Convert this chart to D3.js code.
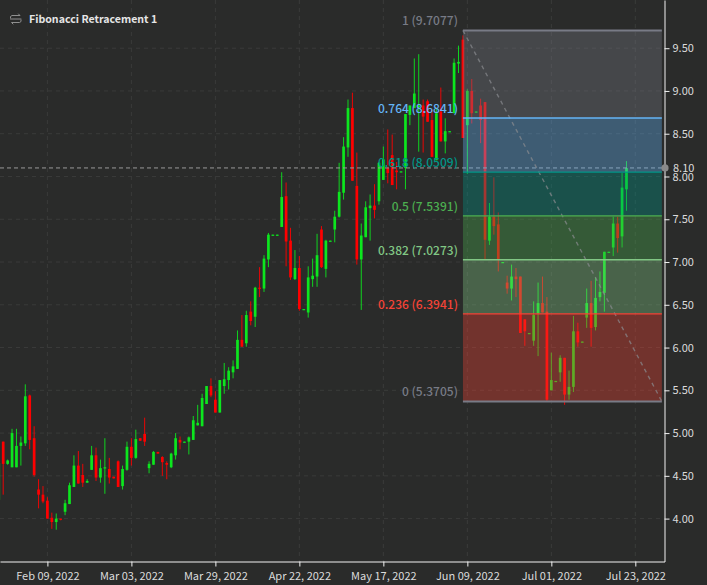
<!DOCTYPE html>
<html><head><meta charset="utf-8">
<script src="https://cdn.jsdelivr.net/npm/d3@7/dist/d3.min.js"></script>
<style>html,body{margin:0;padding:0;background:#2a2b2a;overflow:hidden}svg{display:block}
text{font-family:"Noto Sans CJK SC","Noto Sans",sans-serif}</style></head><body>
<script>
const opens=[4.22,4.90,4.64,4.60,4.60,4.85,4.88,5.44,4.94,4.34,4.28,4.21,4.01,3.96,4.00,4.08,4.17,4.37,4.62,4.51,4.42,4.57,4.74,4.48,4.59,4.58,4.49,4.67,4.38,4.57,4.84,4.71,4.94,4.99,4.59,4.63,4.78,4.72,4.65,4.60,4.74,4.92,4.89,4.90,4.92,5.09,5.08,5.34,5.55,5.39,5.24,5.55,5.62,5.71,5.75,6.09,6.05,6.42,6.36,6.70,6.69,7.03,7.31,7.31,7.41,7.77,7.25,6.80,6.93,6.44,6.41,6.80,6.83,7.38,6.92,7.24,7.38,7.53,7.81,8.34,8.80,7.89,7.03,7.29,7.63,7.66,7.71,7.96,8.10,8.25,8.07,8.05,8.10,8.72,8.80,8.81,8.83,8.88,8.66,8.19,8.76,8.41,8.52,8.74,9.32,9.60,8.60,9.00,8.75,8.83,8.87,7.25,7.53,7.44,6.99,6.76,6.69,6.83,6.83,6.33,6.16,6.08,6.40,6.52,6.42,5.50,5.60,5.71,5.88,5.45,5.54,6.19,6.06,6.35,6.52,6.24,6.59,6.64,7.11,7.17,7.45,7.30,7.85];
const closes=[4.65,4.64,4.68,5.00,4.85,4.89,5.43,4.92,4.51,4.28,4.20,4.00,3.96,4.00,3.99,4.18,4.39,4.62,4.41,4.42,4.44,4.74,4.48,4.59,4.60,4.48,4.47,4.37,4.58,4.84,4.71,4.93,4.91,4.90,4.64,4.78,4.76,4.66,4.63,4.76,4.94,4.89,4.90,4.95,5.15,5.12,5.41,5.55,5.44,5.24,5.62,5.63,5.73,5.78,6.09,6.01,6.38,6.31,6.70,6.69,7.04,7.32,7.32,7.32,7.76,7.24,6.82,6.93,6.45,6.45,6.82,6.84,7.08,6.94,7.25,7.25,7.53,7.82,8.35,8.80,7.95,7.03,7.31,7.64,7.66,7.61,8.16,8.20,8.04,7.90,8.05,8.06,8.73,8.83,8.97,8.83,8.70,8.64,8.23,8.74,8.41,8.53,8.53,9.33,9.34,8.45,9.00,8.74,8.76,8.66,7.26,7.53,7.42,7.03,7.00,6.69,6.83,6.80,6.17,6.19,6.17,6.38,6.52,6.41,5.39,5.62,5.61,5.88,5.45,5.54,6.19,6.06,6.07,6.52,6.23,6.58,6.65,7.12,7.12,7.45,7.28,7.87,8.10];
const highs=[4.77,4.90,4.69,5.05,5.05,4.96,5.57,5.45,5.08,4.46,4.38,4.25,4.07,4.06,4.00,4.22,4.42,4.74,4.79,4.64,4.46,4.85,4.83,4.69,4.94,4.71,4.49,4.68,4.62,4.90,4.94,5.04,4.94,5.18,4.67,4.79,4.78,4.73,4.67,4.77,5.00,4.96,4.90,4.96,5.20,5.33,5.46,5.55,5.64,5.49,5.62,5.82,5.77,5.85,6.20,6.38,6.43,6.54,6.71,6.94,7.08,7.34,7.32,7.32,8.05,7.93,7.40,7.14,7.07,6.45,6.95,7.04,7.33,7.42,7.26,7.25,7.60,8.16,8.46,8.90,8.98,8.28,7.45,7.71,7.79,7.91,8.17,8.35,8.55,8.49,8.17,8.06,8.73,8.83,9.38,9.43,8.90,8.90,8.78,8.80,9.04,8.68,8.53,9.38,9.53,9.65,9.02,9.14,8.76,8.91,8.87,7.69,7.99,7.58,7.00,6.84,6.97,6.93,6.83,6.33,6.17,6.54,6.76,6.83,6.59,5.94,5.61,5.91,5.88,5.73,6.37,6.29,6.07,6.69,6.78,6.82,6.89,7.12,7.12,7.53,7.53,8.04,8.18];
const lows=[4.22,4.28,4.63,4.60,4.60,4.62,4.85,4.81,4.49,4.12,4.18,4.00,3.88,3.87,3.98,4.04,4.17,4.37,4.41,4.37,4.42,4.57,4.44,4.42,4.29,4.41,4.47,4.37,4.34,4.56,4.62,4.70,4.91,4.85,4.53,4.63,4.76,4.50,4.46,4.59,4.69,4.81,4.89,4.75,4.92,5.09,5.08,5.34,5.42,5.24,5.24,5.46,5.51,5.64,5.75,6.01,6.01,6.26,6.24,6.59,6.65,6.94,7.31,7.31,7.41,6.95,6.79,6.79,6.43,6.44,6.35,6.71,6.71,6.93,6.82,7.24,7.23,7.52,7.73,8.23,7.95,6.97,6.44,7.29,7.25,7.51,7.67,7.96,7.92,7.90,7.85,8.05,7.85,8.60,8.80,8.29,8.28,8.64,8.23,8.19,8.41,8.27,8.52,8.74,9.21,8.45,8.03,8.62,8.75,8.39,7.03,7.20,7.32,6.89,6.99,6.63,6.55,6.59,6.17,6.02,6.16,6.02,5.90,6.41,5.37,5.50,5.60,5.60,5.33,5.39,5.48,6.01,6.06,6.23,6.01,6.20,6.54,6.42,7.11,7.07,7.11,7.17,7.60];
const priceTicks=[4,4.5,5,5.5,6,6.5,7,7.5,8,8.5,9,9.5];
const tickCandles=[11,30,49,68,87,106,125,144];
const tickLabels=["Feb 09, 2022","Mar 03, 2022","Mar 29, 2022","Apr 22, 2022","May 17, 2022","Jun 09, 2022","Jul 01, 2022","Jul 23, 2022"];
const fibRatios=[1,0.764,0.618,0.5,0.382,0.236,0];
const fibValues=[9.7077,8.6841,8.0509,7.5391,7.0273,6.3941,5.3705];
const fibColors=["#787b86","#64b5f6","#009688","#4caf50","#81c784","#f44336","#787b86"];
const fibStart=105, fibEnd=150;
const crosshairPrice=8.10;
const title="Fibonacci Retracement 1";

const W=707,H=585,pr=664.5,pb=561.5;
const svg=d3.select("body").append("svg").attr("width",W).attr("height",H);
svg.append("rect").attr("width",W).attr("height",H).attr("fill","#2a2b2a");
const x=d3.scaleLinear().domain([0.276,150.6]).range([0,pr]);
const y=d3.scaleLinear().domain([3.4985,10.0636]).range([pb,0]);
svg.append("defs").append("clipPath").attr("id","plot").append("rect").attr("width",pr).attr("height",pb);
const plot=svg.append("g").attr("clip-path","url(#plot)");
const grid="#3a3b3a";
plot.append("g").selectAll("line").data(priceTicks).join("line")
  .attr("x1",0).attr("x2",pr).attr("y1",d=>y(d)).attr("y2",d=>y(d))
  .attr("stroke",grid).attr("stroke-dasharray","4 4");
plot.append("g").selectAll("line").data(tickCandles).join("line")
  .attr("y1",0).attr("y2",pb).attr("x1",d=>x(d)).attr("x2",d=>x(d))
  .attr("stroke",grid).attr("stroke-dasharray","4 4");
const up="#0ce61e",down="#ff0000";
const candles=d3.range(opens.length);
const col=i=>closes[i]>=opens[i]?up:down;
plot.append("g").selectAll("line").data(candles).join("line")
  .attr("x1",i=>x(i)).attr("x2",i=>x(i)).attr("y1",i=>y(highs[i])).attr("y2",i=>y(lows[i]))
  .attr("stroke",col).attr("stroke-width",0.9);
plot.append("g").selectAll("rect").data(candles).join("rect")
  .attr("x",i=>x(i)-1.35).attr("width",2.7)
  .attr("y",i=>y(Math.max(opens[i],closes[i])))
  .attr("height",i=>Math.max(1.2,Math.abs(y(opens[i])-y(closes[i]))))
  .attr("fill",col);
// crosshair
plot.append("line").attr("x1",0).attr("x2",pr).attr("y1",y(crosshairPrice)).attr("y2",y(crosshairPrice))
  .attr("stroke","#9a9a9a").attr("stroke-dasharray","4 3");
// fib bands
const fx0=x(fibStart),fx1=x(fibEnd);
plot.append("g").selectAll("rect").data(fibValues.slice(0,-1)).join("rect")
  .attr("x",fx0).attr("width",fx1-fx0)
  .attr("y",d=>y(d)).attr("height",(d,i)=>y(fibValues[i+1])-y(d))
  .attr("fill",(d,i)=>fibColors[i]).attr("fill-opacity",0.36);
plot.append("line").attr("x1",fx0).attr("y1",y(fibValues[0])).attr("x2",fx1).attr("y2",y(fibValues[6]))
  .attr("stroke","#8a8c90").attr("stroke-width",1.4).attr("stroke-dasharray","4 4").attr("stroke-opacity",0.7);
plot.append("g").selectAll("line").data(fibValues).join("line")
  .attr("x1",fx0).attr("x2",fx1).attr("y1",d=>y(d)).attr("y2",d=>y(d))
  .attr("stroke",(d,i)=>fibColors[i]).attr("stroke-width",(d,i)=>(i==0||i==6)?2:1.4);
svg.append("g").selectAll("text").data(fibValues).join("text")
  .attr("x",fx0-5).attr("y",d=>y(d)-5).attr("text-anchor","end")
  .attr("font-size",12).attr("font-weight",500).attr("fill",(d,i)=>fibColors[i])
  .text((d,i)=>`${fibRatios[i]} (${d.toFixed(4)})`);
// axes
const ax=svg.append("g").attr("transform",`translate(0,${pb})`)
  .call(d3.axisBottom(x).tickValues(tickCandles).tickFormat((d,i)=>tickLabels[i]).tickSize(5).tickSizeOuter(0).tickPadding(4));
const ay=svg.append("g").attr("transform",`translate(${pr},0)`)
  .call(d3.axisRight(y).tickValues(priceTicks).tickFormat(d3.format(".2f")).tickSize(5).tickSizeOuter(0).tickPadding(3));
[ax,ay].forEach(a=>{a.selectAll("path,line").attr("stroke","#f2f2f2");
  a.selectAll("text").attr("fill","#dcdcdc").attr("font-size",11).attr("font-family",'"Noto Sans CJK SC","Noto Sans",sans-serif');});
ax.selectAll("text").attr("dy","0.9em");
svg.append("circle").attr("cx",pr+.5).attr("cy",y(crosshairPrice)).attr("r",3.6).attr("fill","#8a8a8a");
svg.append("text").attr("x",pr+8.5).attr("y",y(crosshairPrice)+4).attr("fill","#dcdcdc").attr("font-size",11).text(crosshairPrice.toFixed(2));
// title
const ic=svg.append("g").attr("fill","none").attr("stroke","#8f8f8f").attr("stroke-width",1).attr("stroke-linecap","round");
ic.append("path").attr("d",d3.line()([[10.5,18],[10.5,16.5],[12,15.5],[20,15.5],[18.5,14]]));
ic.append("path").attr("d",d3.line()([[21,20],[21,21.5],[19.5,22.5],[11.5,22.5],[13,24]]));
ic.append("line").attr("x1",10.5).attr("x2",21).attr("y1",19).attr("y2",19);
svg.append("text").attr("x",29).attr("y",23).attr("fill","#e6e6e6").attr("font-size",10.6).attr("font-weight",700).text(title);
</script></body></html>
